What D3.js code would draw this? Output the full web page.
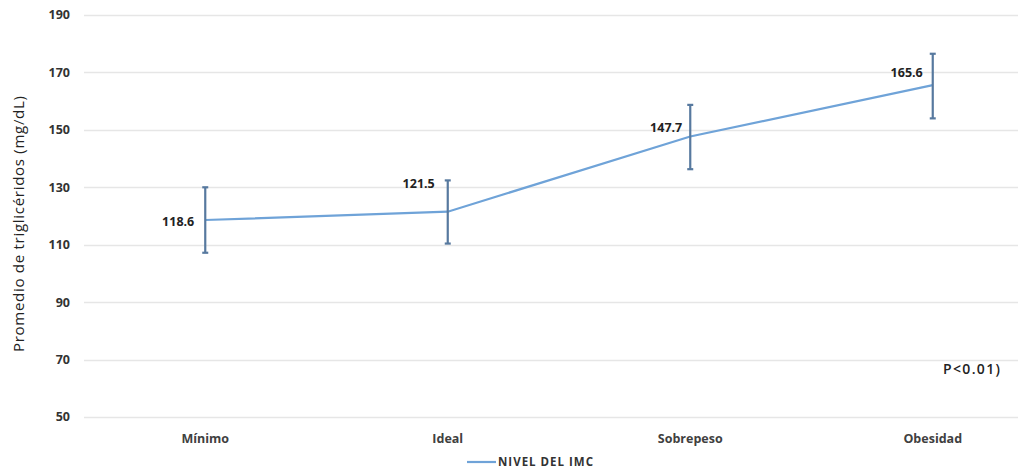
<!DOCTYPE html>
<html>
<head>
<meta charset="utf-8">
<script src="https://cdn.jsdelivr.net/npm/d3@7"></script>
<style>
  body { margin: 0; background: #fff; }
  text { font-family: "Open Sans", "Liberation Sans", sans-serif; }
</style>
</head>
<body>
<script>
const width = 1018;
const height = 472;

// data
const categories = ['Mínimo', 'Ideal', 'Sobrepeso', 'Obesidad'];
const means = [118.6, 121.5, 147.7, 165.6];
const upper = [130, 132.4, 158.7, 176.5];
const lower = [107.2, 110.4, 136.3, 154];
const yTicks = [50, 70, 90, 110, 130, 150, 170, 190];

// label offsets (dx, dy) from each point
const labelOffsets = [[-11, 2], [-13, -28], [-8, -9], [-10, -12]];

const svg = d3.select('body').append('svg').attr('width', width).attr('height', height);

const x = d3.scaleBand().domain(categories).range([84, 1054]);
const y = d3.scaleLinear().domain([50, 190]).range([417, 15]);
const cx = d => x(d) + x.bandwidth() / 2;

// gridlines
svg.append('g').selectAll('line')
    .data(yTicks)
    .enter().append('line')
    .attr('x1', 84).attr('x2', width)
    .attr('y1', d => Math.round(y(d)) + 0.5).attr('y2', d => Math.round(y(d)) + 0.5)
    .attr('stroke', '#e6e6e6').attr('stroke-width', 1.5);

// y tick labels
svg.append('g').selectAll('text')
    .data(yTicks)
    .enter().append('text')
    .attr('x', 70).attr('y', d => y(d))
    .attr('dy', '0.35em')
    .attr('text-anchor', 'end')
    .attr('font-size', 12.5).attr('font-weight', 'bold').attr('fill', '#333')
    .text(d => d);

// category labels
svg.append('g').selectAll('text')
    .data(categories)
    .enter().append('text')
    .attr('x', cx).attr('y', 443)
    .attr('text-anchor', 'middle')
    .attr('font-size', 12.5).attr('font-weight', 'bold').attr('fill', '#404040')
    .text(d => d);

// y axis title
svg.append('text')
    .attr('transform', 'translate(24,224) rotate(-90)')
    .attr('text-anchor', 'middle')
    .attr('font-size', 15).attr('fill', '#222')
    .attr('textLength', 256).attr('lengthAdjust', 'spacing')
    .text('Promedio de triglicéridos (mg/dL)');

// line
const line = d3.line().x((d, i) => cx(categories[i])).y(d => y(d));
svg.append('path')
    .datum(means)
    .attr('d', line)
    .attr('fill', 'none')
    .attr('stroke', '#6fa3d8')
    .attr('stroke-width', 2.2);

// error bars
const err = svg.append('g').attr('stroke', '#57799f').attr('stroke-width', 2.2);
categories.forEach((c, i) => {
    const xc = cx(c);
    err.append('line').attr('x1', xc).attr('x2', xc).attr('y1', y(upper[i])).attr('y2', y(lower[i]));
    err.append('line').attr('x1', xc - 3).attr('x2', xc + 3).attr('y1', y(upper[i])).attr('y2', y(upper[i]));
    err.append('line').attr('x1', xc - 3).attr('x2', xc + 3).attr('y1', y(lower[i])).attr('y2', y(lower[i]));
});

// data labels
svg.append('g').selectAll('text')
    .data(means)
    .enter().append('text')
    .attr('x', (d, i) => cx(categories[i]) + labelOffsets[i][0])
    .attr('y', (d, i) => y(d) + labelOffsets[i][1])
    .attr('dy', '0.35em')
    .attr('text-anchor', 'end')
    .attr('font-size', 12.5).attr('font-weight', 'bold').attr('fill', '#222')
    .text(d => d.toFixed(1));

// p value
svg.append('text')
    .attr('x', 943).attr('y', 374)
    .attr('font-size', 14).attr('font-weight', 600).attr('fill', '#222')
    .attr('textLength', 57).attr('lengthAdjust', 'spacing')
    .text('P<0.01)');

// legend
svg.append('line')
    .attr('x1', 467).attr('x2', 496).attr('y1', 462).attr('y2', 462)
    .attr('stroke', '#6fa3d8').attr('stroke-width', 2.2);
svg.append('text')
    .attr('x', 498).attr('y', 462).attr('dy', '0.35em')
    .attr('font-size', 11.5).attr('font-weight', 'bold').attr('fill', '#333')
    .attr('textLength', 95).attr('lengthAdjust', 'spacing')
    .text('NIVEL DEL IMC');
</script>
</body>
</html>
